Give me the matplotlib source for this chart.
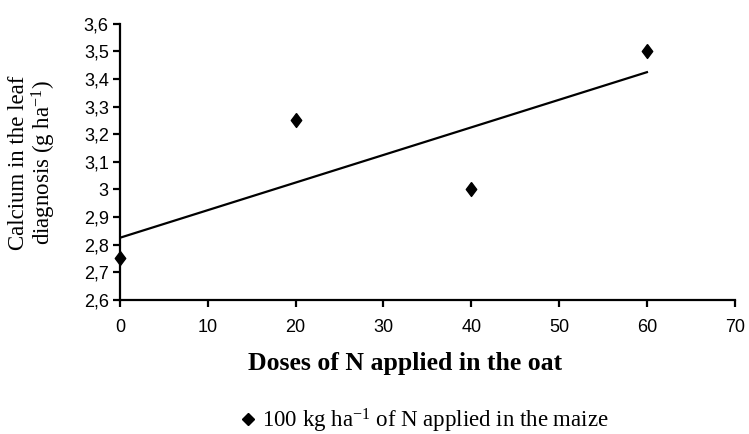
import matplotlib
matplotlib.use("Agg")
import matplotlib.pyplot as plt
import numpy as np
from matplotlib.ticker import FuncFormatter, MultipleLocator
from matplotlib.lines import Line2D

plt.rcParams['mathtext.fontset'] = 'custom'
plt.rcParams['mathtext.rm'] = 'Liberation Serif'
plt.rcParams['mathtext.it'] = 'Liberation Serif:italic'
plt.rcParams['mathtext.bf'] = 'Liberation Serif:bold'

doses = [0, 20, 40, 60]
calcium = [2.75, 3.25, 3.0, 3.5]

# linear trend line
coef = np.polyfit(doses, calcium, 1)
xfit = np.array([doses[0], doses[-1]])
yfit = np.polyval(coef, xfit)

diamond = [(0, 1), (0.75, 0), (0, -1), (-0.75, 0), (0, 1)]

fig = plt.figure(figsize=(7.49, 4.34), dpi=100)
ax = fig.add_axes([0.160, 0.309, 0.821, 0.636])

ax.plot(xfit, yfit, color='black', lw=1.6, zorder=2)
ax.plot(doses, calcium, linestyle='none', marker=diamond, markersize=10,
        color='black', clip_on=False, zorder=3)

ax.set_xlim(0, 70)
ax.set_ylim(2.6, 3.6)
ax.xaxis.set_major_locator(MultipleLocator(10))
ax.yaxis.set_major_locator(MultipleLocator(0.1))
fmt = FuncFormatter(lambda v, p: ('%g' % round(v, 2)).replace('.', ','))
ax.yaxis.set_major_formatter(fmt)

for s in ['top', 'right']:
    ax.spines[s].set_visible(False)
for s in ['left', 'bottom']:
    ax.spines[s].set_linewidth(1.6)
ax.tick_params(axis='both', direction='out', length=5, width=1.6,
               labelsize=13)
ax.tick_params(axis='x', pad=9)
ax.tick_params(axis='y', pad=3)
for lab in ax.get_xticklabels() + ax.get_yticklabels():
    lab.set_fontfamily('Liberation Sans')

fig.text(405 / 749, 1 - 370 / 434, 'Doses of N applied in the oat',
         fontfamily='Liberation Serif', fontweight='bold', fontsize=18.5,
         ha='center', va='baseline')
fig.text(33 / 749, 1 - 163 / 434, 'Calcium in the leaf\ndiagnosis (g ha$^{-1}$)',
         fontfamily='Liberation Serif', fontsize=16.5, rotation=90,
         ha='center', va='center', multialignment='center', linespacing=1.0)

handle = Line2D([], [], linestyle='none', marker='D', markersize=6, color='black')
fig.legend([handle], ['100 kg ha$^{-1}$ of N applied in the maize'],
           loc='center', bbox_to_anchor=(0.564, 0.031), frameon=False,
           prop={'family': 'Liberation Serif', 'size': 16.5},
           handletextpad=0.1, handlelength=1.0)

fig.savefig('out.png', dpi=100)
